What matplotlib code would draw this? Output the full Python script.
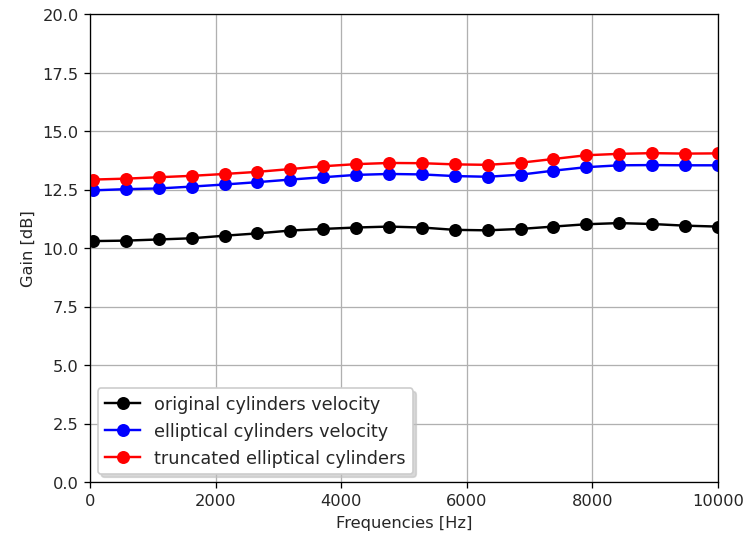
import numpy as np
import matplotlib
matplotlib.use("Agg")
import matplotlib.pyplot as plt

# Gain measured at each analysis frequency
freqs = [50, 574, 1097, 1621, 2145, 2668, 3192, 3716, 4239, 4763,
         5287, 5811, 6334, 6858, 7382, 7905, 8429, 8953, 9476, 10000]
gain_original = [10.30, 10.32, 10.37, 10.42, 10.53, 10.63, 10.75, 10.82, 10.88, 10.92,
                 10.88, 10.78, 10.76, 10.82, 10.92, 11.02, 11.07, 11.03, 10.96, 10.92]
gain_elliptical = [12.47, 12.52, 12.55, 12.63, 12.72, 12.82, 12.93, 13.03, 13.13, 13.17,
                   13.15, 13.08, 13.05, 13.14, 13.31, 13.46, 13.54, 13.55, 13.54, 13.54]
gain_truncated = [12.93, 12.97, 13.03, 13.09, 13.17, 13.26, 13.38, 13.50, 13.59, 13.64,
                  13.63, 13.58, 13.56, 13.65, 13.81, 13.97, 14.03, 14.06, 14.04, 14.05]

series = [
    (gain_original, 'black', 'original cylinders velocity'),
    (gain_elliptical, 'blue', 'elliptical cylinders velocity'),
    (gain_truncated, 'red', 'truncated elliptical cylinders'),
]

fig = plt.figure(figsize=(6.4, 4.6), dpi=116.7)
ax = fig.add_axes([0.1205, 0.1006, 0.8405, 0.8714])

for gain, color, label in series:
    ax.plot(freqs, gain, 'o-', color=color, markersize=7, linewidth=1.5, label=label)

ax.set_xlim(0, 10000)
ax.set_ylim(0, 20)
ax.set_yticks(np.arange(0, 20.1, 2.5))
ax.set_xticks([0, 2000, 4000, 6000, 8000, 10000])
ax.grid(True, color='#b0b0b0', linewidth=0.8)
ax.tick_params(labelcolor='#262626')
ax.set_xlabel('Frequencies [Hz]', color='#262626')
ax.set_ylabel('Gain [dB]', color='#262626')
leg = ax.legend(loc='lower left', fontsize=10.9, fancybox=True,
                shadow={'color': '0.75', 'alpha': 0.6, 'ox': 2, 'oy': -2},
                borderaxespad=0.45)
for text in leg.get_texts():
    text.set_color('#262626')

fig.savefig('out.png', dpi=116.7)
